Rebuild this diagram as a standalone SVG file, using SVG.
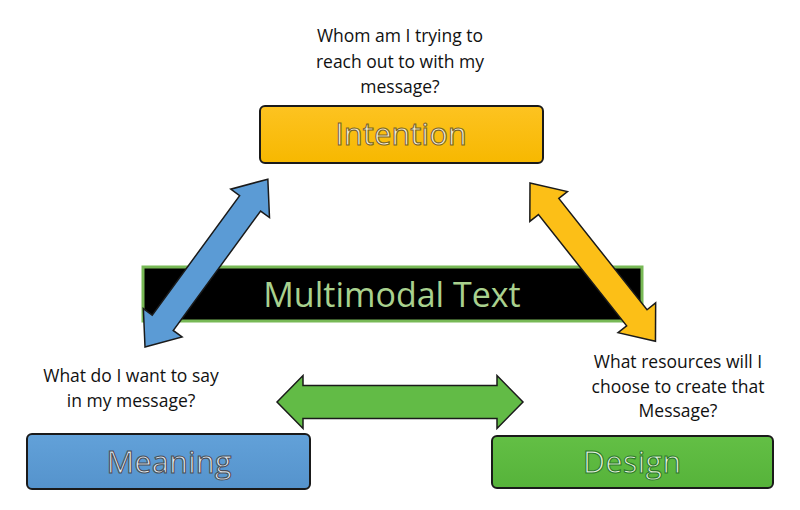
<svg xmlns="http://www.w3.org/2000/svg" width="800" height="510" viewBox="0 0 800 510">
<style>
.q{font-family:"Open Sans","Noto Sans",sans-serif;font-size:17.5px;fill:#111;text-anchor:middle}
.box{stroke:#1a1a1a;stroke-width:2}
.lbl{font-family:"Open Sans","Noto Sans",sans-serif;font-size:31px;text-anchor:middle;stroke-width:1.1}
.arr{stroke:#1a1a1a;stroke-width:1.5;stroke-linejoin:miter}
</style>
<defs>
<linearGradient id="gy" x1="0" y1="0" x2="0" y2="1"><stop offset="0" stop-color="#fdc321"/><stop offset="1" stop-color="#f7b800"/></linearGradient>
<linearGradient id="gb" x1="0" y1="0" x2="0" y2="1"><stop offset="0" stop-color="#62a1d9"/><stop offset="1" stop-color="#5593cc"/></linearGradient>
<linearGradient id="gg" x1="0" y1="0" x2="0" y2="1"><stop offset="0" stop-color="#63bf45"/><stop offset="1" stop-color="#56b33a"/></linearGradient>
</defs>
<rect width="800" height="510" fill="#fff"/>

<g id="q-intention">
<text class="q" x="400" y="42">Whom am I trying to</text>
<text class="q" x="400" y="68">reach out to with my</text>
<text class="q" x="400" y="93">message?</text>
</g>
<g id="q-meaning">
<text class="q" x="131" y="382">What do I want to say</text>
<text class="q" x="131" y="407">in my message?</text>
</g>
<g id="q-design">
<text class="q" x="678" y="368">What resources will I</text>
<text class="q" x="678" y="393">choose to create that</text>
<text class="q" x="678" y="417">Message?</text>
</g>

<g id="intention">
<rect class="box" x="260" y="106" width="283" height="57" rx="5" fill="url(#gy)"/>
<text class="lbl" x="401" y="145" fill="#f6f0dc" stroke="#7a6528">Intention</text>
</g>
<g id="multimodal">
<rect x="143" y="267" width="499" height="54" fill="#000" stroke="#78b956" stroke-width="3"/>
<text x="392" y="307" font-family="'Open Sans','Noto Sans',sans-serif" font-size="34" fill="#a9d18e" text-anchor="middle">Multimodal Text</text>
</g>
<g id="meaning">
<rect class="box" x="27" y="434" width="283" height="55" rx="5" fill="url(#gb)"/>
<text class="lbl" x="169" y="473" fill="#e3e9ef" stroke="#4a4f57">Meaning</text>
</g>
<g id="design">
<rect class="box" x="492" y="436" width="281" height="52" rx="5" fill="url(#gg)"/>
<text class="lbl" x="632" y="473" fill="#e6f3df" stroke="#2e7a2c">Design</text>
</g>

<g id="connectors">
<polygon class="arr" fill="#5b9bd5" transform="translate(145,347) rotate(-53.8)" points="0,0 30,-24 30,-13 178,-13 178,-24 208,0 178,24 178,13 30,13 30,24"/>
<polygon class="arr" fill="#fcbf17" transform="translate(530,183) rotate(51.6)" points="0,0 30,-24 30,-13 172,-13 172,-24 202,0 172,24 172,13 30,13 30,24"/>
<polygon class="arr" fill="#62bb46" transform="translate(277,402)" points="0,0 26,-26.5 26,-16.5 220,-16.5 220,-26.5 246,0 220,26.5 220,16.5 26,16.5 26,26.5"/>
</g>
</svg>
